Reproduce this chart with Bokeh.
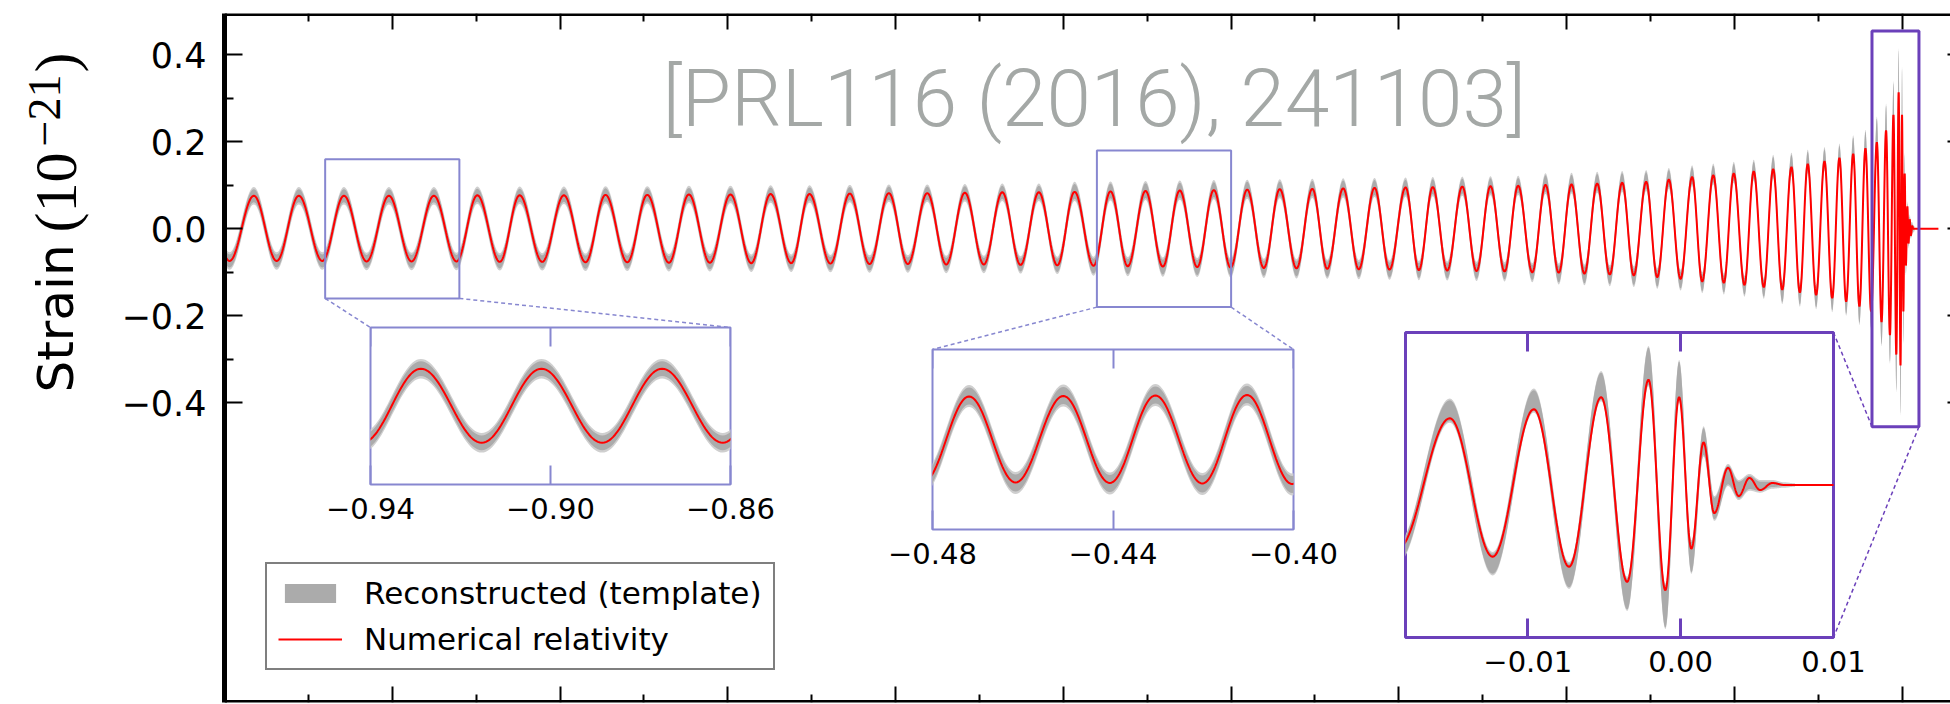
import numpy as np
from bokeh.plotting import figure
from bokeh.models import (ColumnDataSource, FixedTicker, CustomJSTickFormatter, LinearAxis,
                          Label, Arrow, BoxAnnotation, Legend, LegendItem, Range1d)
from bokeh.embed import file_html
from bokeh.resources import INLINE

# ---------------------------------------------------------------------------
# Waveform extrema (time in s relative to merger, strain in units of 1e-21)
# ---------------------------------------------------------------------------
ext_t = [
    -1.0110,
    -0.9970, -0.9825, -0.9689, -0.9557, -0.9417, -0.9288, -0.9153, -0.9020, -0.8885, -0.8752,
    -0.8617, -0.8493, -0.8359, -0.8241, -0.8106, -0.7977, -0.7848, -0.7729, -0.7599, -0.7480,
    -0.7351, -0.7232, -0.7107, -0.6984, -0.6860, -0.6745, -0.6622, -0.6513, -0.6388, -0.6273,
    -0.6155, -0.6040, -0.5927, -0.5811, -0.5698, -0.5587, -0.5474, -0.5364, -0.5255, -0.5146,
    -0.5036, -0.4933, -0.4820, -0.4719, -0.4616, -0.4510, -0.4407, -0.4306, -0.4202, -0.4103,
    -0.4003, -0.3904, -0.3805, -0.3710, -0.3610, -0.3516, -0.3427, -0.3332, -0.3239, -0.3145,
    -0.3056, -0.2960, -0.2881, -0.2798, -0.2712, -0.2622, -0.2537, -0.2454, -0.2370, -0.2289,
    -0.2205, -0.2126, -0.2047, -0.1971, -0.1894, -0.1818, -0.1743, -0.1669, -0.1600, -0.1526,
    -0.1460, -0.1391, -0.1321, -0.1252, -0.1192, -0.1126, -0.1063, -0.1004, -0.0940, -0.0885,
    -0.0825, -0.0769, -0.0715, -0.0660, -0.0610, -0.0563, -0.0513, -0.0463, -0.0417, -0.0374,
    -0.0334, -0.0292, -0.0255, -0.0219, -0.0185, -0.0151, -0.0123, -0.0096, -0.0073, -0.0052,
    -0.0035, -0.0021, -0.0010, -0.0001, 0.0007, 0.0015, 0.0022, 0.0031, 0.0038, 0.0045,
    0.0052, 0.0060,
]

# numerical-relativity strain at each extremum
nr_ext = [
    0.075,
    -0.074, 0.076, -0.074, 0.076, -0.074, 0.076, -0.075, 0.076, -0.075, 0.076,
    -0.075, 0.077, -0.076, 0.077, -0.076, 0.077, -0.077, 0.078, -0.077, 0.078,
    -0.078, 0.079, -0.078, 0.079, -0.079, 0.080, -0.079, 0.080, -0.080, 0.081,
    -0.081, 0.082, -0.081, 0.082, -0.082, 0.083, -0.082, 0.084, -0.083, 0.084,
    -0.084, 0.085, -0.085, 0.086, -0.086, 0.087, -0.087, 0.088, -0.088, 0.089,
    -0.089, 0.090, -0.090, 0.091, -0.091, 0.092, -0.092, 0.093, -0.093, 0.094,
    -0.094, 0.095, -0.095, 0.096, -0.096, 0.097, -0.097, 0.098, -0.098, 0.099,
    -0.100, 0.101, -0.101, 0.102, -0.103, 0.104, -0.105, 0.106, -0.107, 0.108,
    -0.111, 0.113, -0.115, 0.119, -0.121, 0.123, -0.124, 0.127, -0.129, 0.132,
    -0.134, 0.137, -0.140, 0.142, -0.146, 0.149, -0.152, 0.155, -0.159, 0.163,
    -0.167, 0.172, -0.178, 0.185, -0.190, 0.199, -0.214, 0.226, -0.244, 0.262,
    -0.289, 0.314, -0.314, 0.262, -0.190, 0.127, -0.084, 0.051, -0.033, 0.021,
    -0.015, 0.006,
]
nr_tail_t = [0.0068, 0.0216]
nr_tail_v = [0.0, 0.0]

# reconstructed template: centre of the band at each extremum, and its half width
tmpl_ext = [
    0.075,
    -0.074, 0.076, -0.074, 0.076, -0.074, 0.076, -0.075, 0.076, -0.075, 0.076,
    -0.075, 0.077, -0.076, 0.077, -0.076, 0.077, -0.077, 0.078, -0.077, 0.078,
    -0.078, 0.079, -0.078, 0.079, -0.079, 0.080, -0.079, 0.080, -0.080, 0.081,
    -0.081, 0.082, -0.081, 0.082, -0.082, 0.083, -0.082, 0.084, -0.083, 0.084,
    -0.084, 0.086, -0.086, 0.087, -0.087, 0.088, -0.088, 0.089, -0.089, 0.090,
    -0.090, 0.091, -0.091, 0.092, -0.092, 0.093, -0.093, 0.094, -0.094, 0.095,
    -0.095, 0.096, -0.096, 0.097, -0.097, 0.098, -0.098, 0.099, -0.099, 0.100,
    -0.101, 0.104, -0.104, 0.105, -0.106, 0.107, -0.108, 0.109, -0.110, 0.111,
    -0.114, 0.116, -0.118, 0.122, -0.124, 0.126, -0.127, 0.130, -0.132, 0.135,
    -0.137, 0.143, -0.146, 0.148, -0.152, 0.155, -0.158, 0.161, -0.165, 0.169,
    -0.173, 0.184, -0.190, 0.197, -0.202, 0.222, -0.235, 0.252, -0.270, 0.295,
    -0.325, 0.355, -0.362, 0.310, -0.215, 0.130, -0.070, 0.030, -0.015, 0.008,
    -0.004, 0.002,
]
band_half = (
    [0.015] * 42 + [0.017] * 30 + [0.019] * 20 + [0.022] * 10 + [0.026] * 4
    + [0.031, 0.030, 0.031, 0.035, 0.040, 0.046, 0.055, 0.063, 0.058, 0.045,
       0.040, 0.032, 0.028, 0.025, 0.020, 0.014, 0.008]
)
band_tail_t = [0.0068, 0.0075]
band_tail_half = [0.003, 0.0]
band_soft_edge = 0.005   # faint rim drawn around the band

# axes
main_xlim = (-1.0, 0.0288)
main_ylim = (-1.089, 0.495)
strain_ticks = [-0.4, -0.2, 0.0, 0.2, 0.4]
strain_minor = [-0.3, -0.1, 0.1, 0.3]
time_ticks = [-0.9, -0.8, -0.7, -0.6, -0.5, -0.4, -0.3, -0.2, -0.1, 0.0]
time_minor = [-0.95, -0.85, -0.75, -0.65, -0.55, -0.45, -0.35, -0.25, -0.15, -0.05]

# zoomed views
inset_xlims = [(-0.94, -0.86), (-0.48, -0.40), (-0.018, 0.010)]
inset_ylims = [(-0.16, 0.16), (-0.18, 0.18), (-0.455, 0.455)]
inset_ticks = [[-0.94, -0.90, -0.86], [-0.48, -0.44, -0.40], [-0.01, 0.0, 0.01]]

legend_labels = ["Reconstructed (template)", "Numerical relativity"]
citation = "[PRL116 (2016), 241103]"
y_title = "Strain"
y_unit_open, y_unit_exp, y_unit_close = "(10", "\u221221", ")"

# ---------------------------------------------------------------------------
W, H = 1950, 704
FL, FT, FB = 224, 13, 702          # main frame left / top / bottom on the page
GRAY = "#ababab"
GRAY_RIM = "#cfcfcf"
RED = "#ff0000"
EDGE_LIGHT = "#8787d0"
EDGE_DARK = "#6b40ba"
inset_edges = [(EDGE_LIGHT, 2), (EDGE_LIGHT, 2), (EDGE_DARK, 3)]
# inset frames on the page: left, top, width, height (px)
inset_frames = [(370, 327, 360, 157), (932, 349, 361, 180), (1405, 332, 428, 305)]
PADX, PADT, PADB = 64, 2, 64


def shaped(knot_t, knot_v, n=28):
    """Join successive extrema with half-cosine arcs."""
    ts, vs = [], []
    for i in range(len(knot_t) - 1):
        s = np.linspace(0.0, 1.0, n, endpoint=False)
        ts.append(knot_t[i] + (knot_t[i + 1] - knot_t[i]) * s)
        vs.append(knot_v[i] + (knot_v[i + 1] - knot_v[i]) * (1 - np.cos(np.pi * s)) / 2)
    ts.append([knot_t[-1]])
    vs.append([knot_v[-1]])
    return np.concatenate(ts), np.concatenate(vs)


t_nr, h_nr = shaped(ext_t + nr_tail_t, nr_ext + nr_tail_v)
hi_knots = [c + w for c, w in zip(tmpl_ext, band_half)] + band_tail_half
lo_knots = [c - w for c, w in zip(tmpl_ext, band_half)] + [-w for w in band_tail_half]
t_band, band_hi = shaped(ext_t + band_tail_t, hi_knots)
_, band_lo = shaped(ext_t + band_tail_t, lo_knots)
rim_hi = np.where(band_hi > band_lo, band_hi + band_soft_edge, band_hi)
rim_lo = np.where(band_hi > band_lo, band_lo - band_soft_edge, band_lo)

nr_src = ColumnDataSource(dict(t=t_nr, h=h_nr))
band_src = ColumnDataSource(dict(t=t_band, lo=band_lo, hi=band_hi,
                                 rlo=rim_lo, rhi=rim_hi))

strain_fmt = CustomJSTickFormatter(
    code="return (tick < -1e-9 ? '\\u2212' : '') + Math.abs(tick).toFixed(1);")
time_fmt = CustomJSTickFormatter(
    code="return (tick < -1e-9 ? '\\u2212' : '') + Math.abs(tick).toFixed(2);")


def tick_only(ax):
    """Axis that only draws tick marks (no labels, no extra room)."""
    ax.major_label_text_color = None
    ax.major_label_text_font_size = "10px"
    ax.major_label_standoff = 0


def draw_waveforms(fig):
    fig.varea(x="t", y1="rlo", y2="rhi", source=band_src, fill_color=GRAY_RIM)
    band = fig.varea(x="t", y1="lo", y2="hi", source=band_src, fill_color=GRAY)
    nr = fig.line("t", "h", source=nr_src, line_color=RED, line_width=2)
    return band, nr


# ---------------------------------------------------------------------------
# main panel
# ---------------------------------------------------------------------------
p = figure(width=W, height=H, x_range=Range1d(*main_xlim), y_range=Range1d(*main_ylim),
           x_axis_type=None, y_axis_type=None, output_backend="svg", toolbar_location=None,
           min_border_left=FL, min_border_right=0, min_border_top=FT, min_border_bottom=H - FB)
p.outline_line_color = None
p.background_fill_color = "white"
p.border_fill_color = "white"

left = LinearAxis(ticker=FixedTicker(ticks=strain_ticks, minor_ticks=strain_minor),
                  formatter=strain_fmt)
left.axis_line_width = 5
left.major_tick_in, left.major_tick_out = 18, 0
left.minor_tick_in, left.minor_tick_out = 9, 0
left.major_tick_line_width = 2
left.minor_tick_line_width = 2
left.major_label_text_font = "DejaVu Sans"
left.major_label_text_font_size = "35px"
left.major_label_text_color = "black"
left.major_label_standoff = 18
p.add_layout(left, "left")

right = LinearAxis(ticker=FixedTicker(ticks=strain_ticks, minor_ticks=[]),
                   fixed_location=main_xlim[1])
right.axis_line_color = None
right.major_tick_in, right.major_tick_out = 3, 0
right.major_tick_line_width = 2
tick_only(right)
p.add_layout(right, "right")

for loc, fixed in (("above", main_ylim[1]), ("below", main_ylim[0])):
    ax = LinearAxis(ticker=FixedTicker(ticks=time_ticks, minor_ticks=time_minor),
                    fixed_location=fixed)
    ax.axis_line_width = 5
    ax.major_tick_in, ax.major_tick_out = 16, 0
    ax.minor_tick_in, ax.minor_tick_out = 8, 0
    ax.major_tick_line_width = 2
    ax.minor_tick_line_width = 2
    tick_only(ax)
    p.add_layout(ax, loc)

band_r, nr_r = draw_waveforms(p)

# zoom indicators and connectors (connector ends are page positions of inset corners)
for k in range(3):
    (x0, x1), (y0, y1) = inset_xlims[k], inset_ylims[k]
    col, lw = inset_edges[k]
    p.add_layout(BoxAnnotation(left=x0, right=x1, bottom=y0, top=y1, fill_color=None,
                               line_color=col, line_alpha=1.0, line_width=lw))

conn = [
    ((inset_xlims[0][0], inset_ylims[0][0]), (inset_frames[0][0], inset_frames[0][1])),
    ((inset_xlims[0][1], inset_ylims[0][0]), (inset_frames[0][0] + inset_frames[0][2], inset_frames[0][1])),
    ((inset_xlims[1][0], inset_ylims[1][0]), (inset_frames[1][0], inset_frames[1][1])),
    ((inset_xlims[1][1], inset_ylims[1][0]), (inset_frames[1][0] + inset_frames[1][2], inset_frames[1][1])),
    ((inset_xlims[2][0], inset_ylims[2][0]), (inset_frames[2][0] + inset_frames[2][2], inset_frames[2][1])),
    ((inset_xlims[2][1], inset_ylims[2][0]), (inset_frames[2][0] + inset_frames[2][2], inset_frames[2][1] + inset_frames[2][3])),
]
for k, ((dx, dy), (sx, sy)) in enumerate(conn):
    col = EDGE_DARK if k >= 4 else EDGE_LIGHT
    p.add_layout(Arrow(end=None, x_start=dx, y_start=dy, start_units="data",
                       x_end=sx - FL, y_end=FB - sy, end_units="screen",
                       line_color=col, line_width=1.5, line_dash="4 3"))

legend = Legend(items=[LegendItem(label=legend_labels[0], renderers=[band_r]),
                       LegendItem(label=legend_labels[1], renderers=[nr_r])],
                location=(41, 32))
legend.label_text_font = "DejaVu Sans"
legend.label_text_font_size = "31px"
legend.label_text_color = "black"
legend.glyph_width = 64
legend.glyph_height = 24
legend.label_height = 35
legend.label_standoff = 22
legend.padding = 11
legend.spacing = 10
legend.margin = 0
legend.border_line_color = "black"
legend.border_line_width = 2.5
legend.background_fill_alpha = 1.0
p.add_layout(legend)

# citation, positioned from the frame's lower-left corner
p.add_layout(Label(x=662 - FL, y=FB - 98, x_units="screen", y_units="screen", text=citation,
                   text_font="Roboto Light, Lato Light, Open Sans Light, Roboto",
                   text_font_size="80px", text_color="#a4a8a6", text_baseline="alphabetic"))

# ---------------------------------------------------------------------------
# vertical axis title, on a transparent layer over the left margin
# ---------------------------------------------------------------------------
YW, YH = 120, 420
ylab = figure(width=YW, height=YH, x_range=Range1d(0, 1), y_range=Range1d(0, 1),
              x_axis_type=None, y_axis_type=None, output_backend="svg",
              toolbar_location=None, min_border=0)
ylab.outline_line_color = None
ylab.background_fill_color = None
ylab.border_fill_color = None


def vlabel(text, x, y_page, font, size):
    ylab.add_layout(Label(x=x, y=YH - y_page, x_units="screen", y_units="screen", text=text,
                          angle=90, angle_units="deg", text_font=font, text_font_size=size,
                          text_color="black", text_baseline="middle", text_align="left"))


vlabel(y_title, 55, 392, "DejaVu Sans", "50px")
vlabel(y_unit_open, 55, 232, "Liberation Serif", "60px")
vlabel(y_unit_exp, 44, 146, "Liberation Serif", "46px")
vlabel(y_unit_close, 55, 72, "Liberation Serif", "60px")
ylab.styles = {"position": "absolute", "left": "0px", "top": "0px"}


# ---------------------------------------------------------------------------
# zoomed insets, laid over the main panel
# ---------------------------------------------------------------------------
def make_inset(k):
    fl, ft, fw, fh = inset_frames[k]
    col, lw = inset_edges[k]
    f = figure(width=fw + 2 * PADX, height=fh + PADT + PADB,
               x_range=Range1d(*inset_xlims[k]), y_range=Range1d(*inset_ylims[k]),
               x_axis_type=None, y_axis_type=None, output_backend="svg",
               toolbar_location=None, min_border_left=PADX, min_border_right=PADX,
               min_border_top=PADT, min_border_bottom=PADB)
    f.border_fill_color = None
    f.background_fill_color = "white"
    f.outline_line_color = col
    f.outline_line_width = lw

    top = LinearAxis(ticker=FixedTicker(ticks=inset_ticks[k], minor_ticks=[]),
                     fixed_location=inset_ylims[k][1])
    bot = LinearAxis(ticker=FixedTicker(ticks=inset_ticks[k], minor_ticks=[]),
                     formatter=time_fmt)
    for ax in (top, bot):
        ax.axis_line_color = None
        ax.major_tick_in, ax.major_tick_out = 19, 0
        ax.major_tick_line_color = col
        ax.major_tick_line_width = lw
    tick_only(top)
    bot.major_label_text_font = "DejaVu Sans"
    bot.major_label_text_font_size = "29px"
    bot.major_label_text_color = "black"
    bot.major_label_standoff = 13
    f.add_layout(top, "above")
    f.add_layout(bot, "below")

    draw_waveforms(f)
    f.styles = {"position": "absolute", "left": f"{fl - PADX}px", "top": f"{ft - PADT}px"}
    return f


insets = [make_inset(k) for k in range(3)]

open("out.html", "w").write(file_html([p, ylab] + insets, INLINE))
